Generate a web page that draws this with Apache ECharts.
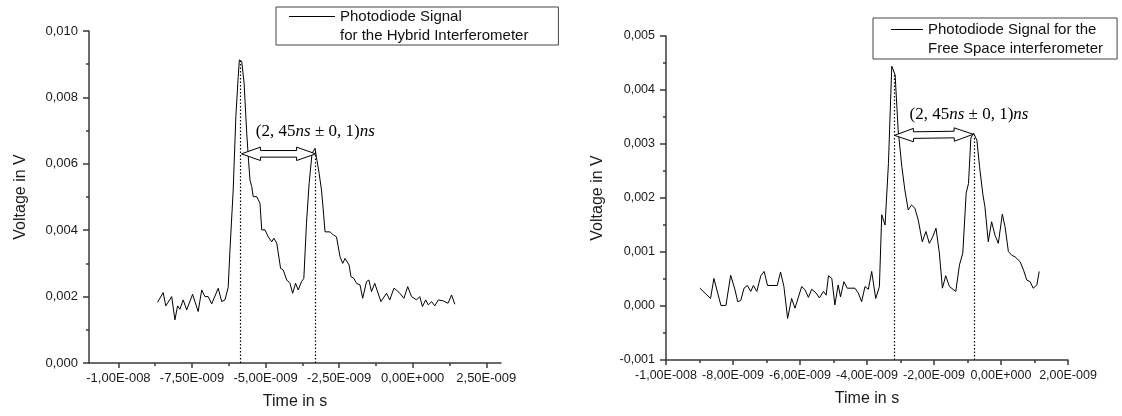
<!DOCTYPE html>
<html><head><meta charset="utf-8">
<script src="https://cdn.jsdelivr.net/npm/echarts@6/dist/echarts.min.js"></script>
<style>html,body{margin:0;padding:0;background:#fff}#c{width:1122px;height:416px}</style>
</head><body><div id="c"></div>
<script>
// ---------- data (time in ns, voltage in mV) ----------
const leftTimeNs = [-8.67,-8.48,-8.39,-8.19,-8.08,-7.99,-7.91,-7.80,-7.68,-7.48,-7.29,-7.17,-7.06,-6.95,-6.83,-6.78,-6.61,-6.49,-6.38,-6.27,-6.21,-6.10,-6.01,-5.93,-5.89,-5.81,-5.73,-5.64,-5.58,-5.53,-5.47,-5.42,-5.30,-5.25,-5.19,-5.13,-5.02,-4.91,-4.79,-4.72,-4.62,-4.49,-4.40,-4.28,-4.17,-4.08,-3.98,-3.89,-3.78,-3.70,-3.61,-3.52,-3.42,-3.32,-3.27,-3.18,-3.10,-3.04,-2.98,-2.81,-2.70,-2.59,-2.47,-2.38,-2.30,-2.16,-2.10,-2.00,-1.91,-1.79,-1.70,-1.57,-1.49,-1.40,-1.29,-1.08,-0.89,-0.78,-0.64,-0.55,-0.44,-0.30,-0.17,-0.04,0.13,0.24,0.33,0.44,0.53,0.64,0.75,0.87,1.04,1.20,1.32,1.43];
const leftVoltMV = [1.83,2.12,1.72,2.00,1.30,1.72,1.62,1.90,1.60,2.07,1.55,2.20,2.00,2.00,1.78,1.72,2.25,1.85,1.90,2.28,3.40,5.21,7.42,8.62,9.13,9.08,8.43,6.92,6.11,5.51,5.31,5.01,5.01,4.92,4.81,4.01,4.01,3.80,3.65,3.76,3.61,2.85,2.80,2.50,2.40,2.10,2.40,2.20,2.45,2.55,4.21,5.41,6.32,6.46,6.42,5.71,5.21,4.61,3.95,3.95,3.86,3.80,3.20,3.00,3.15,2.95,2.60,2.55,2.40,2.35,1.95,2.45,2.50,2.15,2.40,1.85,2.10,1.90,2.25,2.20,2.10,1.95,2.30,2.00,1.90,2.00,1.70,1.90,1.75,1.85,1.72,1.90,1.87,1.80,2.05,1.77];
const rightTimeNs = [-8.99,-8.67,-8.57,-8.36,-8.21,-8.07,-7.94,-7.86,-7.77,-7.67,-7.57,-7.47,-7.39,-7.29,-7.17,-7.07,-6.97,-6.68,-6.58,-6.48,-6.37,-6.25,-6.15,-5.95,-5.85,-5.75,-5.65,-5.52,-5.42,-5.30,-5.22,-5.15,-5.05,-4.96,-4.86,-4.79,-4.69,-4.59,-4.36,-4.26,-4.16,-4.06,-3.96,-3.86,-3.74,-3.63,-3.56,-3.46,-3.36,-3.26,-3.16,-3.07,-2.96,-2.87,-2.77,-2.67,-2.57,-2.47,-2.35,-2.24,-2.14,-2.04,-1.94,-1.84,-1.75,-1.65,-1.54,-1.35,-1.24,-1.14,-1.04,-0.97,-0.90,-0.82,-0.72,-0.64,-0.54,-0.48,-0.38,-0.28,-0.18,-0.08,0.04,0.12,0.22,0.32,0.42,0.57,0.67,0.77,0.87,0.96,1.07,1.14];
const rightVoltMV = [0.33,0.14,0.51,0.01,0.01,0.57,0.30,0.08,0.10,0.33,0.38,0.27,0.38,0.27,0.56,0.64,0.38,0.38,0.63,0.36,-0.23,0.14,-0.04,0.36,0.30,0.16,0.31,0.24,0.15,0.27,0.20,0.56,0.51,0.02,0.39,0.17,0.45,0.33,0.33,0.24,0.08,0.36,0.31,0.64,0.14,0.36,1.69,1.50,2.64,4.44,4.28,3.26,2.58,2.15,1.78,1.87,1.81,1.59,1.19,1.38,1.16,1.28,1.44,0.98,0.33,0.56,0.36,0.27,0.76,0.98,2.09,2.27,3.11,3.20,3.07,2.58,2.06,1.84,1.19,1.56,1.31,1.16,1.70,1.47,1.01,0.94,0.91,0.82,0.67,0.48,0.45,0.33,0.39,0.64];

// tick values
const leftXTicks = [-10, -7.5, -5, -2.5, 0, 2.5];
const leftXMinorTicks = [-8.75, -6.25, -3.75, -1.25, 1.25];

// annotations: dotted peak markers [time, peak], arrows [x1,y1,x2,y2], label position
const leftPeaks = [[-5.85, 9.1], [-3.30, 6.45]];
const rightPeaks = [[-3.19, 4.3], [-0.81, 3.17]];
const leftArrow = [-5.82, 6.3, -3.30, 6.3];
const rightArrow = [-3.18, 3.16, -0.83, 3.18];
const leftLabelPos = [-3.31, 6.97];
const rightLabelPos = [-0.955, 3.54];
const seriesNames = ['Photodiode Signal\nfor the Hybrid Interferometer', 'Photodiode Signal for the\nFree Space interferometer'];

// ---------- helpers ----------
function fmtE(ns) {
  if (Math.abs(ns) < 1e-9) return '0,00E+000';
  let e = Math.floor(Math.log10(Math.abs(ns)) + 1e-9);
  let m = ns / Math.pow(10, e);
  let ex = e - 9;
  return m.toFixed(2).replace('.', ',') + 'E' + (ex < 0 ? '-' : '+') + String(Math.abs(ex)).padStart(3, '0');
}
function fmtV(mv) { return (mv / 1000).toFixed(3).replace('.', ','); }
function zip(a, b) { return a.map((v, i) => [v, b[i]]); }

const AX = '#3a3a3a';
const SANS = 'Liberation Sans, Arial, sans-serif';
const SERIF = 'Liberation Serif, Times New Roman, serif';

function arrowRender(params, api) {
  const p1 = api.coord([api.value(0), api.value(1)]);
  const p2 = api.coord([api.value(2), api.value(3)]);
  const pt = api.coord([api.value(4), api.value(5)]);
  const dx = p2[0] - p1[0], dy = p2[1] - p1[1];
  const L = Math.sqrt(dx * dx + dy * dy);
  const ux = dx / L, uy = dy / L, nx = -uy, ny = ux;
  const hl = 19, hh = 6.7, st = 3.3;
  const loc = [[0,0],[hl,-hh],[hl,-st],[L-hl,-st],[L-hl,-hh],[L,0],[L-hl,hh],[L-hl,st],[hl,st],[hl,hh]];
  const pts = loc.map(q => [p1[0] + ux * q[0] + nx * q[1], p1[1] + uy * q[0] + ny * q[1]]);
  return {
    type: 'group',
    children: [
      { type: 'polygon', shape: { points: pts }, style: { fill: '#fff', stroke: '#000', lineWidth: 1 } },
      { type: 'text', x: pt[0], y: pt[1], style: {
          text: '{a|(2, 45}{b|ns}{a| \u00b1 0, 1)}{b|ns}',
          align: 'center', verticalAlign: 'middle',
          rich: {
            a: { fontFamily: SERIF, fontSize: 17, fill: '#000' },
            b: { fontFamily: SERIF, fontSize: 17, fontStyle: 'italic', fill: '#000' }
          }
        } }
    ]
  };
}

function markLines(peaks, base) {
  return {
    silent: true, symbol: ['none', 'none'], animation: false,
    label: { show: false },
    lineStyle: { type: [1.5, 2], color: '#000', width: 1.2 },
    emphasis: { disabled: true },
    data: peaks.map(p => [{ coord: [p[0], base] }, { coord: [p[0], p[1]] }])
  };
}

function xAxisBase(grid, min, max, fs) {
  return {
    type: 'value', gridIndex: grid, min: min, max: max, position: 'bottom',
    axisLine: { show: true, onZero: false, lineStyle: { color: AX, width: 1.5 } },
    axisTick: { show: true, inside: false, length: 5, lineStyle: { color: AX, width: 1.5 } },
    axisLabel: { show: true, formatter: fmtE, margin: 9, color: '#1a1a1a', fontFamily: SANS, fontSize: fs },
    splitLine: { show: false },
    name: 'Time in s', nameLocation: 'middle', nameGap: 31,
    nameTextStyle: { color: '#1a1a1a', fontFamily: SANS, fontSize: 16 }
  };
}
function yAxisBase(grid, min, max, interval, fs) {
  return {
    type: 'value', gridIndex: grid, min: min, max: max, interval: interval, position: 'left',
    axisLine: { show: true, onZero: false, lineStyle: { color: AX, width: 1.5 } },
    axisTick: { show: true, inside: false, length: 6, lineStyle: { color: AX, width: 1.5 } },
    minorTick: { show: true, splitNumber: 2, length: 3, lineStyle: { color: AX, width: 1.5 } },
    axisLabel: { show: true, formatter: fmtV, margin: 11, color: '#1a1a1a', fontFamily: SANS, fontSize: fs },
    splitLine: { show: false }, minorSplitLine: { show: false },
    name: 'Voltage in V', nameLocation: 'middle', nameRotate: 90, nameGap: 60,
    nameTextStyle: { color: '#1a1a1a', fontFamily: SANS, fontSize: 16 }
  };
}

const lx0 = xAxisBase(0, -11, 3, 13);
lx0.axisTick.customValues = leftXTicks;
lx0.axisLabel.customValues = leftXTicks;
const lx1 = {
  type: 'value', gridIndex: 0, min: -11, max: 3, position: 'bottom', offset: 0,
  axisLine: { show: false, onZero: false },
  axisTick: { show: true, length: 3, customValues: leftXMinorTicks, lineStyle: { color: AX, width: 1.5 } },
  axisLabel: { show: false }, splitLine: { show: false }
};
const rx = xAxisBase(1, -10, 2, 12.5);
rx.interval = 2;
rx.minorTick = { show: true, splitNumber: 2, length: 3, lineStyle: { color: AX, width: 1.5 } };
rx.minorSplitLine = { show: false };

const legendIconLeft = 'path://M0,0L0.01,0L0,0.01Z M0,9L46,9L46,10.1L0,10.1Z M46,38L45.99,38L46,37.99Z';
const legendIconRight = 'path://M0,0L0.01,0L0,0.01Z M0,9L32,9L32,10.1L0,10.1Z M32,38L31.99,38L32,37.99Z';

function legendBase(name, left, top, pad, iw, icon) {
  return {
    show: true, data: [{ name: name, icon: icon }], left: left, top: top, orient: 'vertical',
    padding: pad, itemWidth: iw, itemHeight: 38, itemGap: 0, symbolKeepAspect: false,
    selectedMode: false, borderColor: '#444', borderWidth: 1, backgroundColor: '#fff',
    itemStyle: { color: '#000', borderWidth: 0, borderColor: 'transparent' },
    textStyle: { color: '#111', fontFamily: SANS, fontSize: 15, lineHeight: 19 }
  };
}

const chart = echarts.init(document.getElementById('c'), null, { renderer: 'canvas' });
chart.setOption({
  animation: false,
  backgroundColor: '#fff',
  grid: [
    { left: 89, top: 31, width: 412, height: 332, containLabel: false, outerBoundsMode: 'none' },
    { left: 666, top: 36, width: 402, height: 324, containLabel: false, outerBoundsMode: 'none' }
  ],
  legend: [
    legendBase(seriesNames[0], 276, 7, [0, 30, 0, 13], 46, legendIconLeft),
    legendBase(seriesNames[1], 873, 18, [2, 14, 1, 18], 32, legendIconRight)
  ],
  xAxis: [lx0, lx1, rx],
  yAxis: [yAxisBase(0, 0, 10, 2, 13), yAxisBase(1, -1, 5, 1, 12.5)],
  series: [
    { type: 'line', name: seriesNames[0], xAxisIndex: 0, yAxisIndex: 0, data: zip(leftTimeNs, leftVoltMV),
      symbol: 'none', color: '#000', lineStyle: { color: '#000', width: 1 }, silent: true,
      markLine: markLines(leftPeaks, 0) },
    { type: 'custom', name: 'arrowL', xAxisIndex: 0, yAxisIndex: 0, silent: true,
      data: [leftArrow.concat(leftLabelPos)], renderItem: arrowRender, z: 5 },
    { type: 'line', name: seriesNames[1], xAxisIndex: 2, yAxisIndex: 1, data: zip(rightTimeNs, rightVoltMV),
      symbol: 'none', color: '#000', lineStyle: { color: '#000', width: 1 }, silent: true,
      markLine: markLines(rightPeaks, -1) },
    { type: 'custom', name: 'arrowR', xAxisIndex: 2, yAxisIndex: 1, silent: true,
      data: [rightArrow.concat(rightLabelPos)], renderItem: arrowRender, z: 5 }
  ]
});
</script>
</body></html>
